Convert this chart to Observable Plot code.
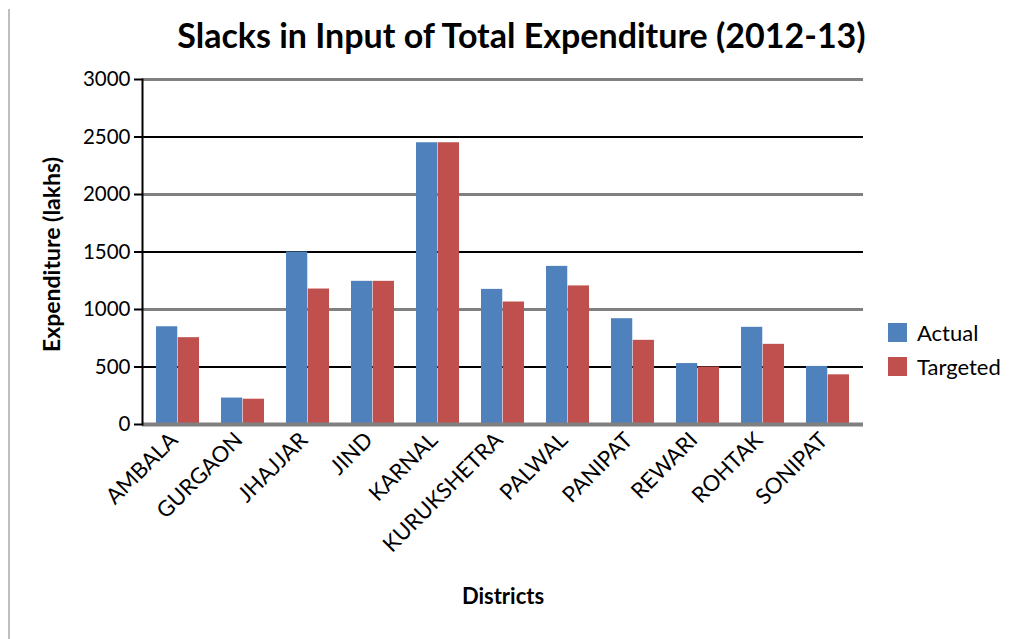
<!DOCTYPE html>
<html><head><meta charset="utf-8">
<script src="https://cdn.jsdelivr.net/npm/d3@7"></script>
<script src="https://cdn.jsdelivr.net/npm/@observablehq/plot@0.6"></script>
<style>
body{margin:0;background:#fff;font-family:Lato,"Open Sans",sans-serif;}
#wrap{position:relative;width:1023px;height:639px;overflow:hidden;background:#fff;}
#edge{position:absolute;left:8px;top:9px;width:2px;height:630px;background:#bfbfbf;}
#title{position:absolute;left:0;top:0;width:1023px;height:62px;box-sizing:border-box;padding-left:20px;padding-top:15px;text-align:center;font-weight:bold;font-size:34px;color:#000;line-height:40px;white-space:nowrap;}
#chart{position:absolute;left:0;top:62px;}
#legend{position:absolute;left:888px;top:315px;font-size:22px;color:#000;}
.item{display:flex;align-items:center;height:34px;}
.sw{width:19px;height:19px;margin-right:10px;}
</style></head><body>
<div id="wrap">
<div id="edge"></div>
<div id="title">Slacks in Input of Total Expenditure (2012-13)</div>
<div id="chart"></div>
<div id="legend"></div>
</div>
<script>
const districts = ["AMBALA","GURGAON","JHAJJAR","JIND","KARNAL","KURUKSHETRA","PALWAL","PANIPAT","REWARI","ROHTAK","SONIPAT"];
const actual = [850, 230, 1500, 1245, 2450, 1175, 1375, 920, 530, 845, 505];
const targeted = [755, 220, 1178, 1245, 2450, 1065, 1205, 732, 500, 697, 432];
const series = ["Actual", "Targeted"];
const colors = ["#4F81BD", "#C0504D"];
const yTicks = [0, 500, 1000, 1500, 2000, 2500, 3000];

const rows = [];
districts.forEach((d, i) => {
  rows.push({district: d, series: series[0], value: actual[i]});
  rows.push({district: d, series: series[1], value: targeted[i]});
});

const half = 21.75;
const chart = Plot.plot({
  width: 1023,
  height: 577,
  marginLeft: 142,
  marginRight: 160,
  marginTop: 17,
  marginBottom: 215,
  style: {fontFamily: "Lato, 'Open Sans', sans-serif", color: "#000", background: "transparent"},
  x: {domain: districts, paddingInner: 0.334, paddingOuter: 0.18, label: null},
  y: {domain: [0, 3000], label: null},
  marks: [
    Plot.ruleY(yTicks.filter(v => v > 0 && v % 1000 === 0), {stroke: "#808080", strokeWidth: 3}),
    Plot.ruleY(yTicks.filter(v => v % 1000 === 500), {stroke: "#000", strokeWidth: 2}),
    Plot.barY(rows.filter(r => r.series === series[0]), {x: "district", y: "value", fill: colors[0], insetRight: half}),
    Plot.barY(rows.filter(r => r.series === series[1]), {x: "district", y: "value", fill: colors[1], insetLeft: half}),
    Plot.ruleY([0], {stroke: "#808080", strokeWidth: 4}),
    Plot.frame({anchor: "left", stroke: "#000", strokeWidth: 2}),
    Plot.axisY({ticks: yTicks, tickSize: 8, tickPadding: 4, fontSize: 20.5, label: null, stroke: "#000", strokeWidth: 2, tickFormat: d => String(d)}),
    Plot.axisX({tickRotate: -45, tickSize: 0, tickPadding: 12, dx: -4, fontSize: 22, label: null}),
    Plot.text(["Expenditure (lakhs)"], {text: d => d, frameAnchor: "left", rotate: -90, dx: -90, dy: 100, fontWeight: "bold", fontSize: 23}),
    Plot.text(["Districts"], {text: d => d, frameAnchor: "bottom", dy: 179, fontWeight: "bold", fontSize: 22})
  ]
});
document.getElementById("chart").appendChild(chart);

const legend = document.getElementById("legend");
series.forEach((s, i) => {
  const it = document.createElement("div");
  it.className = "item";
  const sw = document.createElement("div");
  sw.className = "sw";
  sw.style.background = colors[i];
  const t = document.createElement("span");
  t.textContent = s;
  it.appendChild(sw);
  it.appendChild(t);
  legend.appendChild(it);
});
</script>
</body></html>
